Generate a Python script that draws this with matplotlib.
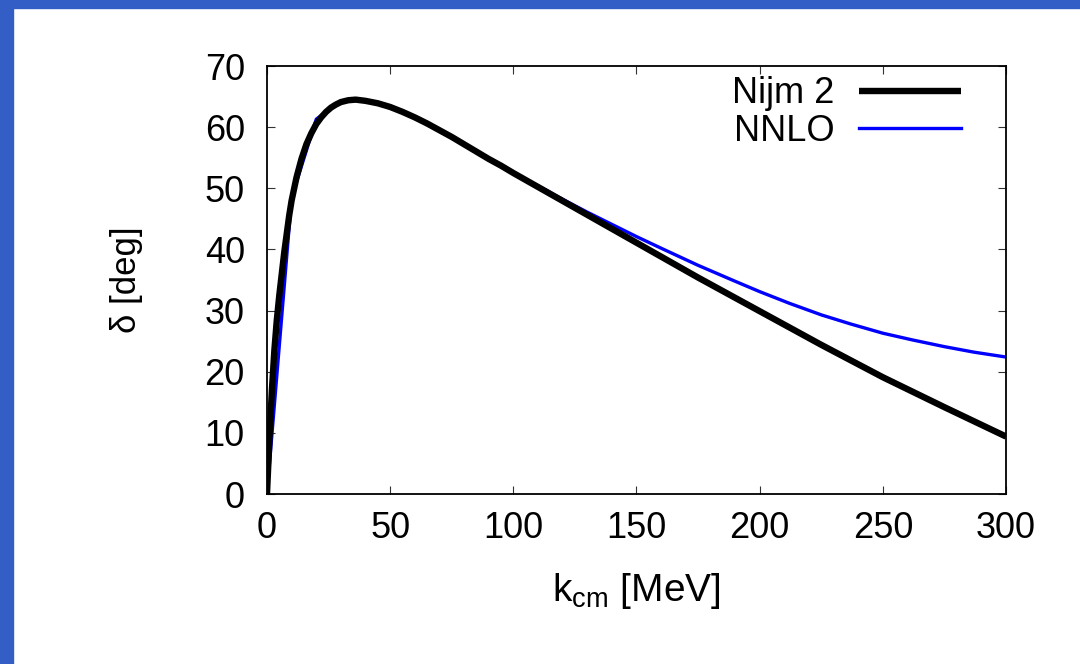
import matplotlib
matplotlib.use("Agg")
import matplotlib.pyplot as plt
from matplotlib.patches import Rectangle

# Nijm 2 phase shift (black, thick)
k_nijm = [0, 1, 2, 3, 4, 5, 6, 7, 8, 9, 10, 12, 14, 16, 18, 20, 22, 24, 26,
          28, 30, 33, 36, 40, 45, 50, 55, 60, 65, 70, 75, 80, 85, 90, 95,
          100, 125, 150, 175, 200, 225, 250, 275, 300]
d_nijm = [0, 9, 17, 23.5, 28.5, 32.5, 36, 39.5, 42.5, 45.5, 48, 51.8, 54.8,
          57.2, 59, 60.5, 61.6, 62.5, 63.2, 63.7, 64.1, 64.4, 64.5, 64.3,
          63.9, 63.3, 62.5, 61.6, 60.6, 59.5, 58.4, 57.2, 56.0, 54.8, 53.7,
          52.5, 46.8, 41.1, 35.4, 29.9, 24.4, 19.1, 14.2, 9.4]

# NNLO (blue, thin)
k_nnlo = [0, 10, 20, 30, 40, 50, 60, 70, 80, 90, 100, 110, 120, 130, 140,
          150, 160, 175, 190, 200, 212, 225, 237, 250, 262, 275, 287, 300]
d_nnlo = [0, 48.5, 61.3, 64.3, 64.4, 63.3, 61.6, 59.5, 57.2, 54.8, 52.5,
          50.4, 48.2, 46.1, 44.1, 42.1, 40.2, 37.4, 34.8, 33.1, 31.2, 29.3,
          27.8, 26.3, 25.2, 24.1, 23.2, 22.4]

plt.rcParams['font.family'] = ['Liberation Sans', 'DejaVu Sans']

fig = plt.figure(figsize=(10.8, 6.64), dpi=100)
# blue frame on the left and top
fig.patches.append(Rectangle((0, 0), 13 / 1080, 1, transform=fig.transFigure,
                             color='#335EC6', zorder=0))
fig.patches.append(Rectangle((0, 1 - 8 / 664), 1, 8 / 664, transform=fig.transFigure,
                             color='#335EC6', zorder=0))

ax = fig.add_axes([0.2472, 0.256, 0.6843, 0.6446])
ax.plot(k_nnlo, d_nnlo, color='#0000FF', lw=2.4, label='NNLO', zorder=2)
ax.plot(k_nijm, d_nijm, color='black', lw=4.6, label='Nijm 2', zorder=3,
        solid_capstyle='butt')

ax.set_xlim(0, 300)
ax.set_ylim(0, 70)
ax.set_xticks(range(0, 301, 50))
ax.set_yticks(range(0, 71, 10))
ax.tick_params(direction='in', length=6, width=0.8, top=True, right=True,
               labelsize=26, color='#333333')
ax.tick_params(axis='x', pad=12)
ax.tick_params(axis='y', pad=16)
for s in ax.spines.values():
    s.set_linewidth(1.3)

ax.set_xlabel(r'$\mathregular{k_{cm}}$ [MeV]', fontsize=28, labelpad=18)
ax.set_ylabel('δ [deg]', fontsize=25, labelpad=44)

h, l = ax.get_legend_handles_labels()
ax.legend(h[::-1], l[::-1], loc='upper right', frameon=False, fontsize=26,
          markerfirst=False, handlelength=2.8, labelspacing=0.08,
          handletextpad=0.7, borderaxespad=0.0, bbox_to_anchor=(0.958, 1.01))

fig.savefig('out.png', dpi=100)
